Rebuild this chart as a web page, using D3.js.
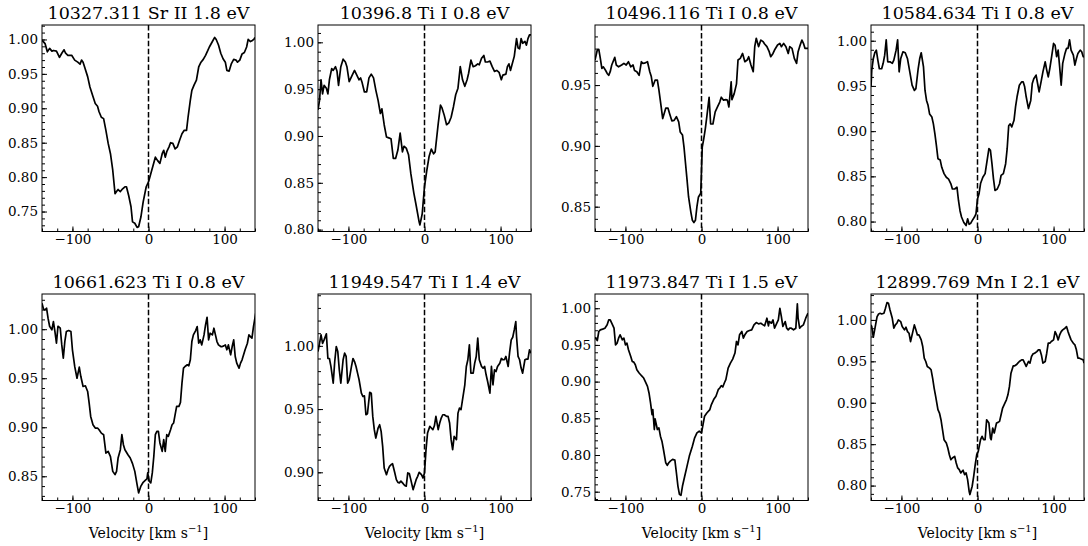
<!DOCTYPE html>
<html>
<head>
<meta charset="utf-8">
<script src="https://cdn.jsdelivr.net/npm/d3@7"></script>
<style>
  body { margin: 0; background: #fff; }
</style>
</head>
<body>
<svg id="chart" width="1088" height="546"></svg>
<script>
// line labels, one per panel
const titles = [
    "10327.311 Sr II 1.8 eV", "10396.8 Ti I 0.8 eV", "10496.116 Ti I 0.8 eV", "10584.634 Ti I 0.8 eV",
    "10661.623 Ti I 0.8 eV", "11949.547 Ti I 1.4 eV", "11973.847 Ti I 1.5 eV", "12899.769 Mn I 2.1 eV"
];

// y limits
const yLimits = [
    [0.721, 1.021], [0.798, 1.0185], [0.8296, 0.9994], [0.789, 1.0174],
    [0.8253, 1.0359], [0.8777, 1.041], [0.738, 1.0194], [0.782, 1.0313]
];
const yTickValues = [
    [0.75, 0.80, 0.85, 0.90, 0.95, 1.00], [0.80, 0.85, 0.90, 0.95, 1.00],
    [0.85, 0.90, 0.95], [0.80, 0.85, 0.90, 0.95, 1.00],
    [0.85, 0.90, 0.95, 1.00], [0.90, 0.95, 1.00],
    [0.75, 0.80, 0.85, 0.90, 0.95, 1.00], [0.80, 0.85, 0.90, 0.95, 1.00]
];
const xLimits = [-140, 140];
const xTickValues = [-100, 0, 100];

// [velocity, normalised flux]
const spec1 = [[-140,.999],[-136,.994],[-133,.982],[-130,.987],[-127,.983],[-125,.984],[-121,.983],[-117,.974],[-114,.980],[-111,.985],[-109,.980],[-106,.977],[-101,.977],[-97,.970],[-93,.967],[-90,.964],[-88,.970],[-86,.967],[-84,.960],[-80,.946],[-77,.931],[-73,.917],[-70,.907],[-67,.903],[-65,.895],[-62,.887],[-59,.885],[-56,.868],[-53,.849],[-50,.834],[-47,.810],[-44,.776],[-42,.779],[-40,.782],[-37,.779],[-34,.783],[-31,.786],[-29,.786],[-26,.773],[-23,.757],[-21,.735],[-18,.733],[-15,.727],[-13,.728],[-10,.742],[-7,.764],[-3,.786],[0,.793],[3,.805],[6,.817],[9,.829],[12,.824],[15,.820],[18,.834],[20,.839],[22,.829],[24,.837],[27,.844],[29,.850],[32,.849],[35,.841],[38,.844],[41,.854],[44,.863],[47,.868],[50,.868],[52,.887],[55,.912],[57,.926],[60,.934],[63,.941],[66,.960],[69,.967],[72,.971],[75,.977],[78,.984],[80,.989],[84,.997],[87,1.003],[89,1.000],[92,.992],[95,.980],[98,.972],[101,.967],[103,.955],[106,.954],[109,.965],[112,.971],[115,.970],[117,.967],[120,.970],[123,.979],[126,.981],[129,.989],[131,1.000],[134,.997],[136,.998],[139,1.001],[140,1.003]];
const spec2 = [[-140,.928],[-138,.938],[-136,.960],[-134,.945],[-132,.954],[-129,.951],[-127,.945],[-125,.960],[-122,.972],[-120,.970],[-117,.974],[-115,.969],[-113,.954],[-110,.974],[-107,.982],[-104,.979],[-102,.974],[-99,.958],[-95,.965],[-92,.970],[-89,.965],[-86,.960],[-84,.962],[-82,.957],[-79,.947],[-76,.947],[-73,.962],[-70,.966],[-67,.962],[-64,.949],[-61,.938],[-58,.924],[-56,.929],[-53,.912],[-50,.899],[-47,.898],[-44,.897],[-41,.876],[-38,.876],[-35,.885],[-32,.903],[-29,.883],[-27,.889],[-24,.887],[-21,.880],[-18,.860],[-14,.839],[-11,.826],[-7,.808],[-6,.805],[-3,.817],[0,.846],[3,.863],[6,.878],[9,.886],[12,.881],[14,.883],[18,.913],[21,.933],[23,.930],[26,.922],[29,.912],[32,.914],[35,.920],[38,.931],[41,.944],[44,.951],[47,.974],[50,.960],[53,.953],[56,.960],[58,.967],[61,.981],[64,.974],[67,.975],[70,.977],[72,.976],[75,.983],[78,.986],[80,.979],[83,.979],[86,.980],[89,.974],[92,.969],[95,.970],[98,.968],[101,.960],[103,.965],[107,.966],[109,.974],[111,.977],[113,.970],[115,.976],[118,.985],[121,1.004],[123,.994],[125,.993],[127,1.004],[129,.999],[132,1.001],[134,.997],[136,1.004],[138,1.008],[140,1.008]];
const spec3 = [[-140,.9706],[-137,.9788],[-135,.9794],[-133,.972],[-131,.9637],[-129,.965],[-126,.962],[-124,.9596],[-122,.958],[-120,.961],[-118,.9665],[-114,.9728],[-112,.9665],[-109,.965],[-105,.9665],[-102,.9679],[-99,.9665],[-96,.9692],[-93,.965],[-90,.9665],[-88,.962],[-85,.961],[-82,.958],[-79,.9692],[-77,.9679],[-75,.968],[-71,.9692],[-68,.961],[-66,.957],[-64,.949],[-61,.954],[-58,.954],[-56,.946],[-53,.932],[-51,.9225],[-47,.931],[-44,.931],[-42,.9267],[-39,.9206],[-36,.921],[-33,.924],[-30,.9198],[-28,.9115],[-25,.909],[-23,.899],[-21,.8855],[-19,.872],[-17,.858],[-14,.8456],[-12,.8388],[-10,.837],[-8,.8388],[-6,.850],[-4,.858],[-1,.861],[1,.899],[3,.906],[5,.914],[7,.924],[10,.940],[12,.918],[15,.918],[18,.928],[21,.932],[24,.936],[26,.940],[29,.9376],[32,.938],[34,.9376],[36,.932],[39,.9527],[40,.938],[43,.943],[46,.951],[48,.9706],[51,.972],[54,.976],[57,.9692],[60,.9706],[62,.9733],[65,.9665],[68,.961],[70,.9816],[72,.9885],[75,.9816],[78,.987],[81,.9857],[83,.9838],[86,.9816],[89,.9775],[91,.9733],[94,.976],[96,.9788],[100,.983],[103,.9843],[105,.9816],[108,.9843],[111,.9816],[114,.976],[116,.9816],[119,.9802],[122,.972],[125,.9679],[127,.9775],[129,.9816],[132,.987],[134,.9843],[136,.9802],[140,.9802]];
const spec4 = [[-140,.949],[-139,.9675],[-137,.980],[-135,.9867],[-133,.9896],[-131,.9786],[-129,.969],[-126,.969],[-124,.975],[-122,.984],[-120,1.001],[-118,.9767],[-115,.9767],[-112,.975],[-110,.9786],[-107,.9896],[-105,1.001],[-103,.9656],[-101,.980],[-98,.9878],[-95,.9867],[-92,.980],[-89,.9656],[-86,.9508],[-83,.945],[-81,.947],[-78,.969],[-76,.980],[-74,.9867],[-71,.971],[-69,.945],[-67,.934],[-65,.9286],[-63,.919],[-60,.9157],[-58,.908],[-56,.897],[-54,.884],[-52,.8695],[-49,.868],[-47,.860],[-44,.853],[-41,.849],[-38,.847],[-35,.8418],[-33,.836],[-30,.836],[-27,.838],[-25,.8233],[-23,.812],[-21,.805],[-18,.799],[-15,.7956],[-13,.803],[-11,.797],[-9,.798],[-7,.801],[-4,.805],[-2,.8085],[0,.825],[2,.8307],[4,.842],[7,.849],[10,.853],[12,.864],[15,.8806],[17,.8787],[19,.864],[21,.8473],[23,.8344],[26,.836],[29,.8418],[31,.851],[34,.853],[37,.864],[39,.8806],[41,.906],[43,.908],[45,.9046],[48,.912],[50,.9268],[52,.938],[55,.9508],[58,.9545],[60,.9545],[62,.949],[64,.938],[67,.925],[70,.934],[72,.9527],[74,.958],[77,.962],[79,.9527],[81,.9434],[84,.9564],[86,.9656],[89,.9767],[91,.9675],[93,.960],[95,.969],[97,.980],[100,.997],[102,.995],[104,.9823],[106,.9896],[108,.971],[110,.9508],[112,.975],[115,.986],[117,.9915],[119,.9915],[121,1.001],[123,.9896],[126,.984],[128,.973],[130,.980],[132,.986],[135,.9896],[137,.9878],[139,.9823],[140,.982]];
const spec5 = [[-140,1.0265],[-138,1.0204],[-136,1.0197],[-134,1.0214],[-132,1.011],[-130,1.003],[-127,.9993],[-125,1.0078],[-123,.9976],[-121,.9857],[-119,1.003],[-116,1.001],[-114,.984],[-112,.9705],[-110,.9874],[-108,.9976],[-105,.9986],[-102,.9976],[-100,.979],[-97,.962],[-94,.950],[-91,.9613],[-89,.952],[-86,.9416],[-83,.9423],[-80,.9365],[-78,.9247],[-76,.911],[-73,.9026],[-70,.8992],[-67,.8992],[-65,.8975],[-62,.894],[-59,.8924],[-56,.8737],[-53,.8754],[-50,.870],[-47,.855],[-44,.8517],[-42,.855],[-40,.8686],[-37,.8771],[-35,.8924],[-33,.8822],[-31,.8771],[-27,.872],[-24,.8686],[-21,.8629],[-18,.855],[-15,.8415],[-13,.833],[-10,.840],[-7,.8439],[-4,.846],[-2,.8473],[-1,.8534],[1,.8449],[3,.8432],[5,.8534],[7,.8704],[9,.8924],[11,.8958],[13,.8958],[15,.884],[18,.8754],[20,.8873],[22,.8754],[24,.8924],[26,.8907],[29,.8975],[31,.9026],[33,.9043],[35,.9128],[37,.9213],[40,.9213],[42,.9253],[44,.945],[46,.9603],[48,.962],[51,.9637],[53,.9627],[55,.9688],[57,.9874],[59,.9942],[62,.9986],[64,1.0027],[66,.9857],[68,.9891],[70,.984],[73,.9942],[75,1.0044],[77,1.0122],[79,.9891],[81,.9959],[84,.9942],[86,1.001],[88,.9942],[90,.9874],[92,.984],[95,.9823],[97,.9823],[99,.983],[101,.984],[103,.979],[105,.984],[108,.9739],[110,.9823],[112,.9891],[114,.9722],[116,.9654],[119,.9603],[121,.9654],[123,.9688],[125,.9739],[127,.979],[130,.9857],[132,.9942],[134,.9925],[136,.9908],[138,1.0027],[141,1.0163]];
const spec6 = [[-140,.9955],[-138,1.002],[-136,1.0087],[-134,1.002],[-132,1.0047],[-129,1.0095],[-127,.990],[-125,.990],[-123,.9837],[-120,.9705],[-118,.9876],[-116,.9995],[-114,.9955],[-112,.981],[-110,.9705],[-107,.989],[-105,.9942],[-103,.9916],[-101,.9705],[-99,.9732],[-96,.9837],[-94,.990],[-92,.9876],[-90,.9837],[-88,.9784],[-86,.9732],[-83,.9626],[-81,.960],[-79,.9605],[-77,.9455],[-75,.9463],[-72,.9632],[-70,.9626],[-68,.9442],[-66,.9337],[-64,.9271],[-61,.935],[-59,.9376],[-57,.9324],[-55,.9205],[-53,.9034],[-50,.8981],[-48,.902],[-46,.9047],[-44,.906],[-42,.9068],[-39,.8995],[-37,.8942],[-35,.892],[-33,.8916],[-31,.893],[-28,.891],[-26,.8895],[-24,.889],[-22,.8995],[-20,.899],[-18,.8942],[-15,.8863],[-13,.8902],[-11,.8942],[-9,.8968],[-7,.900],[-4,.8981],[-2,.8955],[0,.8995],[2,.9179],[4,.931],[7,.9363],[9,.935],[11,.9337],[13,.9368],[15,.9442],[18,.9337],[20,.939],[22,.9429],[24,.9455],[26,.9455],[29,.9442],[31,.9442],[33,.939],[35,.9258],[37,.9179],[39,.9284],[42,.9258],[44,.9468],[46,.9508],[48,.9495],[50,.9574],[53,.9692],[55,.9837],[57,.989],[59,1.0008],[61,.9784],[64,.9784],[66,.9863],[68,.9916],[70,1.0061],[72,.989],[75,.9837],[77,.9824],[79,.9837],[81,.9771],[83,.9718],[86,.9626],[88,.9837],[90,.9692],[92,.981],[94,.9797],[96,.9837],[99,.9863],[101,.990],[103,.989],[105,.989],[107,.9916],[110,.9837],[112,.9955],[114,1.0047],[116,1.0068],[118,1.0126],[120,1.0192],[121,1.0074],[123,.9916],[125,.989],[127,.9824],[129,.9784],[132,.989],[134,.9895],[136,.9895],[138,.9968],[140,.9942]];
const spec7 = [[-140,.9606],[-137,.956],[-135,.9683],[-133,.9706],[-130,.9715],[-127,.9728],[-124,.9774],[-122,.9841],[-120,.9841],[-118,.9796],[-115,.9728],[-113,.950],[-111,.9524],[-109,.9592],[-107,.9638],[-104,.957],[-102,.9592],[-100,.950],[-98,.9524],[-96,.9434],[-93,.9343],[-91,.9275],[-89,.9266],[-87,.923],[-85,.9162],[-82,.9117],[-80,.9094],[-78,.9072],[-76,.9049],[-74,.9004],[-71,.8936],[-69,.8845],[-67,.8709],[-65,.855],[-64,.8619],[-62,.8347],[-61,.8492],[-58,.8347],[-56,.837],[-54,.8256],[-52,.8188],[-50,.8075],[-47,.7894],[-45,.7858],[-43,.7894],[-41,.7917],[-38,.794],[-35,.793],[-33,.7758],[-31,.7577],[-29,.7464],[-27,.745],[-25,.7577],[-22,.7713],[-19,.7849],[-16,.7985],[-12,.812],[-9,.8234],[-6,.8302],[-3,.8324],[0,.8302],[2,.8415],[4,.8528],[7,.8573],[11,.8619],[13,.8687],[16,.8755],[19,.880],[22,.889],[24,.8913],[26,.8945],[28,.8927],[30,.8981],[32,.9026],[35,.9185],[38,.9253],[41,.9307],[44,.9389],[46,.9547],[48,.9502],[50,.9638],[53,.9683],[55,.9592],[57,.9638],[60,.9683],[63,.9697],[66,.9706],[69,.9774],[72,.9805],[75,.9787],[78,.9796],[81,.9774],[83,.976],[86,.9864],[88,.976],[89,.9819],[92,.9796],[94,.9841],[96,.9728],[99,.9796],[101,.9841],[103,1.000],[105,.9887],[107,.9751],[110,.9819],[112,.9728],[114,.9706],[116,.9728],[118,.9728],[121,.9706],[124,.9728],[126,1.0059],[127,.9864],[129,.9728],[131,.9751],[134,.9774],[137,.9864],[140,.9932]];
const spec8 = [[-140,.994],[-139,.992],[-137,.9791],[-134,.994],[-132,1.004],[-130,1.0072],[-128,1.008],[-126,1.0072],[-123,1.008],[-121,1.014],[-119,1.0209],[-117,1.020],[-115,1.012],[-112,1.002],[-110,.990],[-108,.994],[-106,.996],[-104,1.000],[-101,.998],[-99,.992],[-96,.988],[-94,.9912],[-92,.9859],[-90,.9839],[-88,.9739],[-85,.9859],[-83,.994],[-81,.988],[-79,.9819],[-77,.9819],[-74,.9759],[-72,.9679],[-70,.9538],[-68,.9498],[-66,.9438],[-63,.9418],[-61,.9398],[-59,.9297],[-57,.9177],[-55,.9076],[-52,.8916],[-50,.8876],[-48,.8795],[-46,.8675],[-44,.8554],[-41,.8514],[-39,.8454],[-37,.8373],[-35,.8313],[-33,.8333],[-30,.8353],[-28,.8273],[-26,.8213],[-24,.8193],[-22,.8153],[-19,.8185],[-17,.8133],[-15,.8153],[-13,.8072],[-11,.7932],[-10,.7892],[-7,.7992],[-5,.8112],[-3,.8253],[-1,.8373],[1,.8414],[4,.8554],[6,.8594],[8,.8554],[10,.8554],[12,.8795],[15,.8755],[17,.8574],[18,.8554],[20,.8695],[22,.8635],[25,.8755],[27,.8763],[29,.8775],[31,.8855],[33,.8936],[36,.8996],[38,.9036],[40,.9096],[42,.9197],[44,.9357],[47,.9446],[49,.9446],[51,.9458],[53,.9478],[55,.9498],[58,.9518],[60,.9518],[62,.9478],[64,.9438],[67,.9498],[69,.9478],[71,.9558],[73,.959],[75,.9598],[78,.9618],[80,.9639],[82,.9639],[84,.9578],[86,.9478],[89,.9498],[91,.9598],[93,.9719],[95,.9719],[97,.9739],[100,.9759],[102,.9859],[104,.9819],[106,.9759],[108,.9819],[110,.9859],[112,.988],[115,.990],[117,.992],[119,.9859],[121,.9807],[123,.9759],[126,.9719],[128,.9699],[130,.9639],[132,.9538],[134,.9538],[137,.9526],[139,.9518],[140,.9478]];
const spectra = [spec1, spec2, spec3, spec4, spec5, spec6, spec7, spec8];

// layout (pixels)
const colLeft = [42, 318, 595, 871];
const rowTop = [25, 294];
const panelW = 213, panelH = 206.5;
const serif = "DejaVu Serif";

const svg = d3.select("#chart");
svg.append("rect").attr("width", 1088).attr("height", 546).attr("fill", "#fff");

const fmtY = d3.format(".2f");
const fmtX = d3.format("d");

spectra.forEach((spec, i) => {
    const col = i % 4, row = Math.floor(i / 4);
    const g = svg.append("g")
        .attr("transform", `translate(${colLeft[col]},${rowTop[row]})`);

    const x = d3.scaleLinear().domain(xLimits).range([0, panelW]);
    const y = d3.scaleLinear().domain(yLimits[i]).range([panelH, 0]);

    g.append("clipPath").attr("id", `clip-${i}`)
        .append("rect").attr("width", panelW).attr("height", panelH);

    // minor ticks
    const yMinor = d3.range(Math.ceil(yLimits[i][0] * 100), Math.floor(yLimits[i][1] * 100) + 1).map(d => d / 100);
    const xMinor = d3.range(-140, 141, 20);
    g.append("g")
        .call(d3.axisLeft(y).tickValues(yMinor).tickSize(-3).tickFormat(""));
    g.append("g")
        .attr("transform", `translate(0,${panelH})`)
        .call(d3.axisBottom(x).tickValues(xMinor).tickSize(-3).tickFormat(""));

    // major ticks
    g.append("g").attr("class", "ax")
        .call(d3.axisLeft(y).tickValues(yTickValues[i]).tickSize(-5).tickPadding(4).tickFormat(fmtY));
    g.append("g").attr("class", "ax")
        .attr("transform", `translate(0,${panelH})`)
        .call(d3.axisBottom(x).tickValues(xTickValues).tickSize(-5).tickPadding(3).tickFormat(fmtX));

    g.selectAll(".domain").remove();
    g.selectAll(".tick line").attr("stroke", "#000").attr("stroke-width", 1);
    g.selectAll(".ax").attr("font-family", serif).attr("font-size", 13.5);

    // spectrum line
    const line = d3.line().x(d => x(d[0])).y(d => y(d[1]));
    g.append("path")
        .datum(spec)
        .attr("clip-path", `url(#clip-${i})`)
        .attr("d", line)
        .attr("fill", "none")
        .attr("stroke", "#000")
        .attr("stroke-width", 1.7)
        .attr("stroke-linejoin", "round");

    // rest velocity marker
    g.append("line")
        .attr("x1", x(0)).attr("x2", x(0))
        .attr("y1", 0).attr("y2", panelH)
        .attr("stroke", "#000")
        .attr("stroke-width", 1.5)
        .attr("stroke-dasharray", "5.5,2.4");

    // frame
    g.append("rect")
        .attr("width", panelW).attr("height", panelH)
        .attr("fill", "none").attr("stroke", "#000").attr("stroke-width", 1);

    g.append("text")
        .attr("x", panelW / 2).attr("y", -6)
        .attr("text-anchor", "middle")
        .attr("font-family", serif)
        .attr("font-size", 17.5)
        .text(titles[i]);

    if (row === 1) {
        const lab = g.append("text")
            .attr("x", panelW / 2).attr("y", panelH + 37)
            .attr("text-anchor", "middle")
            .attr("font-family", serif)
            .attr("font-size", 14);
        lab.append("tspan").text("Velocity [km s");
        lab.append("tspan").attr("dy", -6).attr("font-size", 10).text("\u22121");
        lab.append("tspan").attr("dy", 6).text("]");
    }
});
</script>
</body>
</html>
